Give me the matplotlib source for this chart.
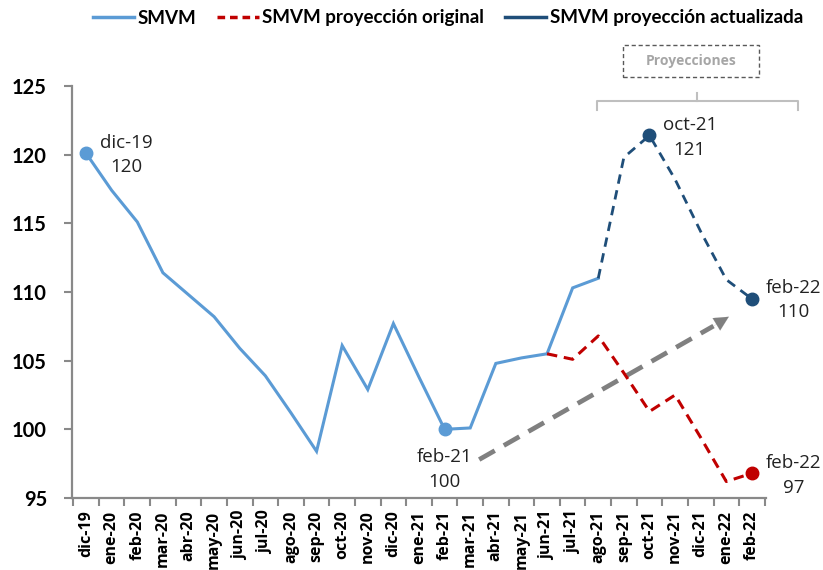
import matplotlib.pyplot as plt
from matplotlib.lines import Line2D
from matplotlib.patches import Rectangle

# data
months = ['dic-19', 'ene-20', 'feb-20', 'mar-20', 'abr-20', 'may-20', 'jun-20',
          'jul-20', 'ago-20', 'sep-20', 'oct-20', 'nov-20', 'dic-20', 'ene-21',
          'feb-21', 'mar-21', 'abr-21', 'may-21', 'jun-21', 'jul-21', 'ago-21',
          'sep-21', 'oct-21', 'nov-21', 'dic-21', 'ene-22', 'feb-22']
smvm = [120.1, 117.4, 115.1, 111.4, 109.8, 108.2, 105.9, 103.9, 101.2, 98.4,
        106.1, 102.9, 107.7, 103.8, 100.0, 100.1, 104.8, 105.2, 105.5, 110.3, 111.0]
proy_orig = [105.5, 105.1, 106.8, 104.1, 101.3, 102.5, 99.4, 96.2, 96.8]      # jun-21 .. feb-22
proy_act = [111.0, 119.8, 121.4, 118.2, 114.4, 110.9, 109.5]                  # ago-21 .. feb-22

orig_start = months.index('jun-21')
act_start = months.index('ago-21')

C_LIGHT = '#5b9bd5'
C_DARK = '#1f4e79'
C_RED = '#c00000'
C_GRAY = '#808080'

W, H = 823, 570
fig = plt.figure(figsize=(W / 100, H / 100), dpi=100)
ax = fig.add_axes([72 / W, 1 - 498 / H, (766 - 72) / W, (498 - 86) / H])

x_all = list(range(len(months)))
x_smvm = x_all[:len(smvm)]
x_orig = x_all[orig_start:orig_start + len(proy_orig)]
x_act = x_all[act_start:act_start + len(proy_act)]

ax.plot(x_smvm, smvm, color=C_LIGHT, lw=2.2, solid_joinstyle='miter', zorder=3)
ax.plot(x_orig, proy_orig, color=C_RED, lw=2.2, dashes=(3.4, 2.2), zorder=3)
ax.plot(x_act, proy_act, color=C_DARK, lw=2.0, dashes=(3.4, 2.4), zorder=3)

# highlighted points
i_dic19, i_feb21 = months.index('dic-19'), months.index('feb-21')
i_oct21, i_feb22 = months.index('oct-21'), months.index('feb-22')
ax.plot([i_dic19, i_feb21], [smvm[i_dic19], smvm[i_feb21]], 'o', color=C_LIGHT, ms=9, ls='none', zorder=4)
ax.plot([i_oct21, i_feb22], [proy_act[i_oct21 - act_start], proy_act[i_feb22 - act_start]],
        'o', color=C_DARK, ms=9, ls='none', zorder=4)
ax.plot([i_feb22], [proy_orig[i_feb22 - orig_start]], 'o', color=C_RED, ms=9, ls='none', zorder=4)

# point labels
lab_kw = dict(textcoords='offset points', ha='center', va='center', fontsize=13.5,
              family='Open Sans', color='#222222', linespacing=1.45)
ax.annotate('dic-19\n%d' % round(smvm[i_dic19]), (i_dic19, smvm[i_dic19]), xytext=(29, -1), **lab_kw)
ax.annotate('feb-21\n%d' % round(smvm[i_feb21]), (i_feb21, smvm[i_feb21]), xytext=(0, -29), **lab_kw)
ax.annotate('oct-21\n%d' % round(proy_act[i_oct21 - act_start]), (i_oct21, proy_act[i_oct21 - act_start]),
            xytext=(29, -1.5), **lab_kw)
ax.annotate('feb-22\n%d' % round(proy_act[-1]), (i_feb22, proy_act[-1]), xytext=(30, -1), **lab_kw)
ax.annotate('feb-22\n%d' % round(proy_orig[-1]), (i_feb22, proy_orig[-1]), xytext=(30, -1.5), **lab_kw)

# gray trend arrow
tail = (15.35, 97.8)
tip = (25.1, 108.2)
back = (tip[0] - 0.6, tip[1] - 0.68)
ax.plot([tail[0], back[0]], [tail[1], back[1]], color=C_GRAY, lw=3.4, dashes=(3.8, 2.2),
        solid_capstyle='butt', zorder=2)
ax.annotate('', xy=tip, xytext=back,
            arrowprops=dict(arrowstyle='-|>', color=C_GRAY, lw=0.1, mutation_scale=26,
                            shrinkA=0, shrinkB=0), zorder=2)

# axes
ax.set_xlim(-0.55, len(months) - 0.45)
ax.set_ylim(95, 125)
ax.set_yticks([95, 100, 105, 110, 115, 120, 125])
ax.set_xticks(x_all)
ax.set_xticklabels(months, rotation=90, fontsize=11.5, fontweight='bold', family='Open Sans')
ax.set_xticks([i + 0.5 for i in range(-1, len(months))], minor=True)
ax.tick_params(axis='x', which='major', length=0, pad=9)
ax.tick_params(axis='x', which='minor', length=6, width=1.5, color='#898989', direction='out')
ax.tick_params(axis='y', length=6, width=1.5, color='#898989', pad=12)
for lab in ax.get_yticklabels():
    lab.set_fontsize(14.5)
    lab.set_fontweight('bold')
    lab.set_family('Lato')
for s in ['top', 'right']:
    ax.spines[s].set_visible(False)
for s in ['left', 'bottom']:
    ax.spines[s].set_color('#898989')
    ax.spines[s].set_linewidth(1.6)

# projections bracket and box (figure pixels)
def fx(px):
    return px / W

def fy(py):
    return 1 - py / H

br = '#bfbfbf'
fig.add_artist(Line2D([fx(597), fx(597), fx(798), fx(798)], [fy(110), fy(101), fy(101), fy(110)],
                      color=br, lw=1.5, solid_joinstyle='round'))
fig.add_artist(Line2D([fx(697), fx(697)], [fy(101), fy(93)], color=br, lw=1.5))
fig.add_artist(Rectangle((fx(623), fy(77)), fx(759) - fx(623), fy(45) - fy(77), fill=False,
                         edgecolor='#595959', lw=1.0, ls=(0, (3, 2))))
fig.text(fx(691), fy(61), 'Proyecciones', ha='center', va='center', fontsize=10,
         fontweight='bold', color='#a6a6a6', family='Open Sans')

# legend
handles = [Line2D([], [], color=C_LIGHT, lw=2.5),
           Line2D([], [], color=C_RED, lw=2.5, dashes=(2.2, 1.4)),
           Line2D([], [], color=C_DARK, lw=2.5)]
fig.legend(handles, ['SMVM', 'SMVM proyección original', 'SMVM proyección actualizada'],
           loc='center', bbox_to_anchor=(fx(448), fy(18)), ncol=3, frameon=False,
           handlelength=2.2, handletextpad=0.2, columnspacing=1.1,
           prop={'family': 'Lato', 'weight': 'bold', 'size': 13.5})

plt.savefig('out.png', dpi=100, facecolor='white')
